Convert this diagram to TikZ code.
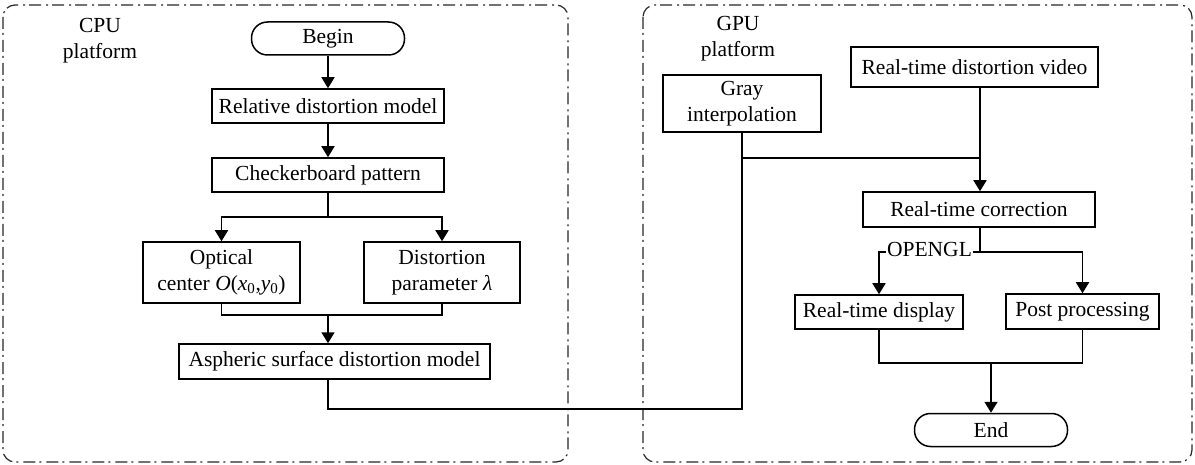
\documentclass[tikz,border=0pt]{standalone}
\usepackage{fontspec}
\setmainfont{Liberation Serif}
\usetikzlibrary{arrows.meta}

\tikzset{
  platform/.style={draw=black!85, line width=1.2pt,
    dash pattern=on 12pt off 4pt on 2pt off 5pt, rounded corners=12pt},
  procbox/.style={draw, line width=1.5pt, inner sep=0pt, align=center},
  terminal/.style={draw, line width=1.5pt, inner sep=0pt, rounded corners=16pt,
    minimum width=153pt, minimum height=33pt},
  flow/.style={line width=1.7pt},
  arr/.style={flow, -{Triangle[width=13pt,length=11pt]}},
  thinflow/.style={line width=1.4pt},
  caption/.style={align=center, inner sep=0pt}
}

\begin{document}
\begin{tikzpicture}[x=1pt, y=-1pt,
  every node/.style={font=\fontsize{21.5}{26}\selectfont}]
\useasboundingbox (0,0) rectangle (1195,465);

% platform frames
\draw[platform] (3,5) rectangle (568,462);
\draw[platform] (643,5) rectangle (1192,462);
\node[caption] (cpu) at (100,41) {CPU\\platform};
\node[caption] (gpu) at (738,39) {GPU\\platform};

% CPU side
\node[terminal] (begin) at (328,38.5) {Begin};
\node[procbox, minimum width=232pt, minimum height=34pt] (rel) at (328,106) {Relative distortion model};
\node[procbox, minimum width=232pt, minimum height=34pt] (check) at (328,175) {Checkerboard pattern};
\node[procbox, minimum width=157pt, minimum height=61pt] (optical) at (221.5,272.5)
  {Optical\\center \textit{O}(\textit{x}\textsubscript{0},\textit{y}\textsubscript{0})};
\node[procbox, minimum width=156pt, minimum height=61pt] (dist) at (442,272.5)
  {Distortion\\parameter \textit{λ}};
\node[procbox, minimum width=311pt, minimum height=35pt] (asph) at (334.5,361.5) {Aspheric surface distortion model};

% GPU side
\node[procbox, minimum width=158pt, minimum height=57pt] (gray) at (742,103.5) {Gray\\interpolation};
\node[procbox, minimum width=247pt, minimum height=40pt] (video) at (974.5,67) {Real-time distortion video};
\node[procbox, minimum width=232pt, minimum height=35pt] (corr) at (979,209.5) {Real-time correction};
\node[procbox, minimum width=168pt, minimum height=34pt] (display) at (879,312) {Real-time display};
\node[procbox, minimum width=153pt, minimum height=35pt] (post) at (1082.5,311.5) {Post processing};
\node[terminal] (end) at (991,430) {End};

% junction points
\coordinate (split) at (328,217);
\coordinate (join) at (328,315);
\coordinate (bend) at (328,409);
\coordinate (merge) at (980,158);
\coordinate (fork) at (980,252);
\coordinate (join2) at (991,363);

% CPU flow
\draw[arr] (begin) -- (rel);
\draw[arr] (rel) -- (check);
\draw[flow] (check) -- (split);
\draw[arr] (split) -| (optical.north);
\draw[arr] (split) -| (dist.north);
\draw[flow] (optical.south) |- (join) -| (dist.south);
\draw[arr] (join) -- (asph.north -| join);

% hand-over to the GPU
\draw[thinflow] (asph.south -| bend) -- (bend) -| (gray.south);
\draw[thinflow] (gray.south) |- (merge);
\draw[flow] (video.south -| merge) -- (merge);
\draw[arr] (merge) -- (corr.north -| merge);

% GPU flow
\draw[flow] (corr.south -| fork) -- (fork);
\draw[arr] (fork) -| node[pos=0.25, fill=white, inner sep=1.5pt, yshift=3pt] (ogl) {OPENGL} (display.north);
\draw[arr] (fork) -| (post.north);
\draw[flow] (display.south) |- (join2) -| (post.south);
\draw[arr] (join2) -- (end.north -| join2);
\end{tikzpicture}
\end{document}
